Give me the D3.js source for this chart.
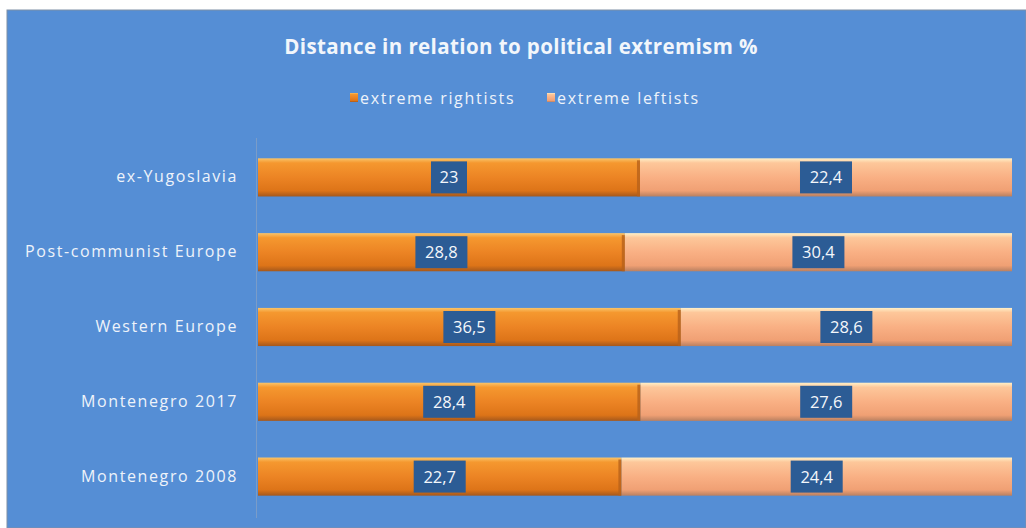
<html>
<head>
	<script src="https://d3js.org/d3.v7.min.js"></script>
	<style>
		body{ margin:0; background:#fff;}
		text{ font-family: "Open Sans", Lato, sans-serif;}
	</style>
</head>
<body>
	<script>

var categories = ["ex-Yugoslavia", "Post-communist Europe", "Western Europe", "Montenegro 2017", "Montenegro 2008"];
var rightists = [23, 28.8, 36.5, 28.4, 22.7];
var leftists = [22.4, 30.4, 28.6, 27.6, 24.4];
var seriesNames = ["extreme rightists", "extreme leftists"];

var width = 1026,
	height = 528;

var svg = d3.select("body")
	.append("svg")
	.attr("width", width)
	.attr("height", height);

var defs = svg.append("defs");

function grad(id, stops){
	var g = defs.append("linearGradient")
		.attr("id", id)
		.attr("x1", 0).attr("y1", 0).attr("x2", 0).attr("y2", 1);
	stops.forEach(function(s){
		g.append("stop").attr("offset", s[0]).attr("stop-color", s[1]);
	});
}
grad("gRight", [[0, "#f9c46a"], [0.12, "#f5982f"], [0.5, "#ec8424"], [0.85, "#dd7418"], [1, "#a5581c"]]);
grad("gLeft", [[0, "#fff0c8"], [0.12, "#fdc79a"], [0.5, "#f9b084"], [0.85, "#f0a074"], [1, "#b98061"]]);

// chart area
svg.append("rect")
	.attr("x", 7).attr("y", 10)
	.attr("width", width - 7).attr("height", height - 10)
	.attr("fill", "#558ed5")
	.attr("stroke", "#7f8fa6")
	.attr("stroke-width", 1);

svg.append("text")
	.attr("x", 521).attr("y", 54)
	.attr("text-anchor", "middle")
	.attr("fill", "#f2f6fb")
	.attr("font-size", 20.5)
	.attr("font-weight", "bold")
	.attr("letter-spacing", 0.4)
	.text("Distance in relation to political extremism %");

// legend
var legend = svg.append("g");
var legX = [350, 547];
seriesNames.forEach(function(n, i){
	legend.append("rect")
		.attr("x", legX[i]).attr("y", 93)
		.attr("width", 8).attr("height", 9)
		.attr("fill", i == 0 ? "url(#gRight)" : "url(#gLeft)");
	legend.append("text")
		.attr("x", legX[i] + 10).attr("y", 104)
		.attr("fill", "#eef3fa")
		.attr("font-size", 16)
		.attr("letter-spacing", 1.7)
		.text(n);
});

var x = d3.scaleLinear()
	.domain([0, 1])
	.range([258, 1012]);

var y = d3.scaleBand()
	.domain(categories)
	.range([140, 514])
	.paddingInner(0.49)
	.paddingOuter(0.245);

var rows = categories.map(function(c, i){
	var t = rightists[i] + leftists[i];
	return { cat: c, r: rightists[i], l: leftists[i], pr: rightists[i] / t };
});

// axis line
svg.append("line")
	.attr("x1", 256.5).attr("x2", 256.5)
	.attr("y1", 138).attr("y2", 518)
	.attr("stroke", "#7a9cc8");

svg.append("g")
	.selectAll("text")
	.data(categories)
	.enter()
	.append("text")
	.attr("x", 238)
	.attr("y", function(d){ return y(d) + y.bandwidth() / 2 + 5; })
	.attr("text-anchor", "end")
	.attr("fill", "#eef3fa")
	.attr("font-size", 16)
	.attr("letter-spacing", 1.6)
	.text(function(d){ return d; });

var bars = svg.append("g");

bars.selectAll(".right")
	.data(rows)
	.enter()
	.append("rect")
	.attr("x", x(0))
	.attr("y", function(d){ return y(d.cat); })
	.attr("width", function(d){ return x(d.pr) - x(0); })
	.attr("height", y.bandwidth())
	.attr("fill", "url(#gRight)");

bars.selectAll(".left")
	.data(rows)
	.enter()
	.append("rect")
	.attr("x", function(d){ return x(d.pr); })
	.attr("y", function(d){ return y(d.cat); })
	.attr("width", function(d){ return x(1) - x(d.pr); })
	.attr("height", y.bandwidth())
	.attr("fill", "url(#gLeft)");

// dark edge where segments meet
bars.selectAll(".edge")
	.data(rows)
	.enter()
	.append("rect")
	.attr("x", function(d){ return x(d.pr) - 3; })
	.attr("y", function(d){ return y(d.cat) + 2; })
	.attr("width", 3)
	.attr("height", y.bandwidth() - 2)
	.attr("fill", "#b8621a")
	.attr("opacity", 0.8);

// value labels
function fmt(v){ return String(v).replace(".", ","); }
var labels = [];
rows.forEach(function(d){
	labels.push({ v: d.r, cx: (x(0) + x(d.pr)) / 2, cat: d.cat });
	labels.push({ v: d.l, cx: (x(d.pr) + x(1)) / 2, cat: d.cat });
});

var lab = bars.selectAll(".lab")
	.data(labels)
	.enter()
	.append("g");

lab.append("rect")
	.attr("x", function(d){ return d.cx - (fmt(d.v).length > 2 ? 26 : 18); })
	.attr("y", function(d){ return y(d.cat) + y.bandwidth() / 2 - 16; })
	.attr("width", function(d){ return fmt(d.v).length > 2 ? 52 : 36; })
	.attr("height", 32)
	.attr("fill", "#2c5c95");

lab.append("text")
	.attr("x", function(d){ return d.cx; })
	.attr("y", function(d){ return y(d.cat) + y.bandwidth() / 2 + 6; })
	.attr("text-anchor", "middle")
	.attr("fill", "#f4f7fb")
	.attr("font-size", 16.5)
	.text(function(d){ return fmt(d.v); });

	</script>
</body>
</html>
